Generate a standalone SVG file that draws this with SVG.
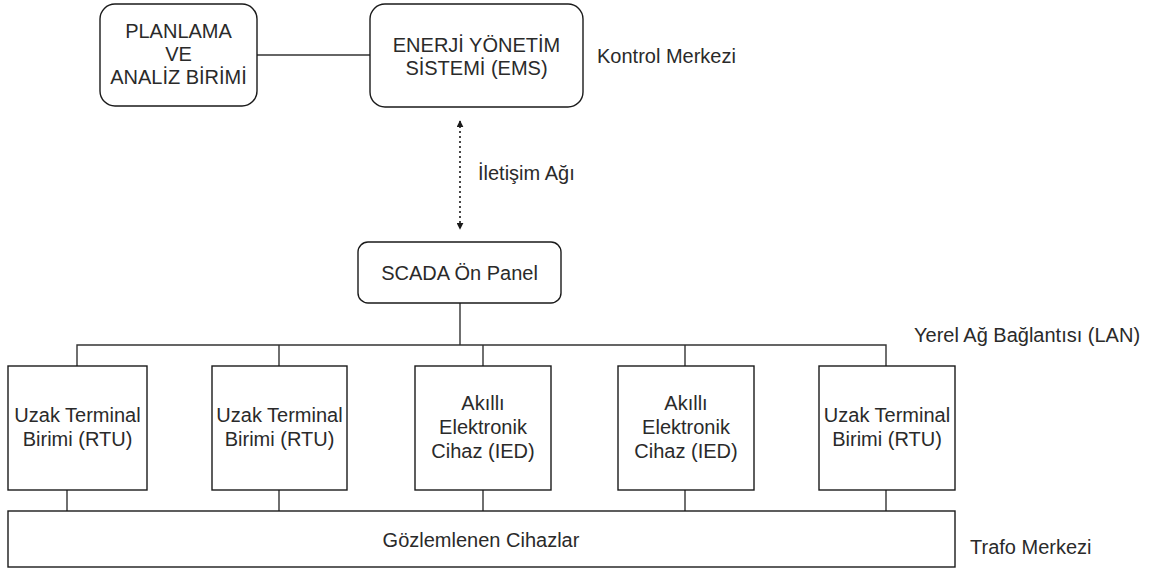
<svg xmlns="http://www.w3.org/2000/svg" width="1151" height="577" viewBox="0 0 1151 577">
<style>
.box{fill:#fff;stroke:#1a1a1a;stroke-width:1.4}
.t{font-family:"Liberation Sans",Arial,sans-serif;font-size:20px;fill:#2a2a2a;text-anchor:middle}
.l{font-family:"Liberation Sans",Arial,sans-serif;font-size:20px;fill:#2a2a2a}
.c{stroke:#333;stroke-width:1.4;fill:none}
.d{stroke:#1a1a1a;stroke-width:1.6;fill:none;stroke-dasharray:2 3}
</style>
<defs>
<marker id="ah" viewBox="0 0 10 10" refX="9" refY="5" markerWidth="7" markerHeight="7" orient="auto-start-reverse" markerUnits="userSpaceOnUse">
<path d="M0,0 L10,5 L0,10 z" fill="#1a1a1a"/>
</marker>
</defs>
<rect width="1151" height="577" fill="#fff"/>
<g id="connectors">
<line class="c" x1="257" y1="55" x2="370" y2="55"/>
<line class="d" x1="460" y1="121" x2="460" y2="229" marker-start="url(#ah)" marker-end="url(#ah)"/>
<line class="c" x1="460" y1="303" x2="460" y2="345"/>
<polyline class="c" points="77,366 77,345 886,345 886,366"/>
<line class="c" x1="279" y1="345" x2="279" y2="366"/>
<line class="c" x1="483" y1="345" x2="483" y2="366"/>
<line class="c" x1="685" y1="345" x2="685" y2="366"/>
<line class="c" x1="67" y1="490" x2="67" y2="511"/>
<line class="c" x1="279" y1="490" x2="279" y2="511"/>
<line class="c" x1="483" y1="490" x2="483" y2="511"/>
<line class="c" x1="685" y1="490" x2="685" y2="511"/>
<line class="c" x1="886" y1="490" x2="886" y2="511"/>
</g>
<g id="planlama">
<rect class="box" x="100" y="4" width="157" height="102" rx="15"/>
<text class="t" x="178.5" y="38">PLANLAMA</text>
<text class="t" x="178.5" y="61">VE</text>
<text class="t" x="178.5" y="84">ANALİZ BİRİMİ</text>
</g>
<g id="ems">
<rect class="box" x="370" y="4" width="213" height="103" rx="15"/>
<text class="t" x="476.5" y="52">ENERJİ YÖNETİM</text>
<text class="t" x="476.5" y="75">SİSTEMİ (EMS)</text>
</g>
<text id="kontrol" class="l" x="597" y="63">Kontrol Merkezi</text>
<text id="iletisim" class="l" x="478" y="180">İletişim Ağı</text>
<g id="scada">
<rect class="box" x="358" y="242" width="203" height="61" rx="10"/>
<text class="t" x="459.5" y="280">SCADA Ön Panel</text>
</g>
<text id="lan" class="l" x="914" y="342">Yerel Ağ Bağlantısı (LAN)</text>
<g id="rtu1">
<rect class="box" x="8" y="366" width="139" height="124"/>
<text class="t" x="77.5" y="422">Uzak Terminal</text>
<text class="t" x="77.5" y="446">Birimi (RTU)</text>
</g>
<g id="rtu2">
<rect class="box" x="212" y="366" width="135" height="124"/>
<text class="t" x="279.5" y="422">Uzak Terminal</text>
<text class="t" x="279.5" y="446">Birimi (RTU)</text>
</g>
<g id="ied1">
<rect class="box" x="415" y="366" width="136" height="124"/>
<text class="t" x="483" y="410">Akıllı</text>
<text class="t" x="483" y="434">Elektronik</text>
<text class="t" x="483" y="458">Cihaz (IED)</text>
</g>
<g id="ied2">
<rect class="box" x="618" y="366" width="136" height="124"/>
<text class="t" x="686" y="410">Akıllı</text>
<text class="t" x="686" y="434">Elektronik</text>
<text class="t" x="686" y="458">Cihaz (IED)</text>
</g>
<g id="rtu3">
<rect class="box" x="819" y="366" width="136" height="124"/>
<text class="t" x="887" y="422">Uzak Terminal</text>
<text class="t" x="887" y="446">Birimi (RTU)</text>
</g>
<g id="gozlem">
<rect class="box" x="8" y="511" width="947" height="56"/>
<text class="t" x="481" y="547">Gözlemlenen Cihazlar</text>
</g>
<text id="trafo" class="l" x="970" y="554">Trafo Merkezi</text>
</svg>
